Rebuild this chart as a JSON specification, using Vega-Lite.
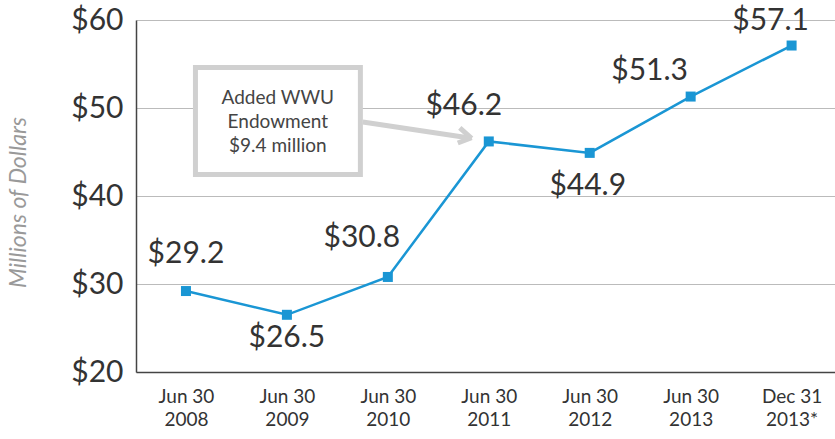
{
  "$schema": "https://vega.github.io/schema/vega-lite/v6.json",
  "autosize": {"type": "none"},
  "width": 699,
  "height": 352,
  "padding": {"left": 136, "top": 20, "right": 0, "bottom": 67},
  "background": "white",
  "config": {"view": {"stroke": null}, "font": "Lato"},
  "datasets": {
    "pts": [
      {"i": 0, "label": "Jun 30|2008", "value": 29.2},
      {"i": 1, "label": "Jun 30|2009", "value": 26.5},
      {"i": 2, "label": "Jun 30|2010", "value": 30.8},
      {"i": 3, "label": "Jun 30|2011", "value": 46.2},
      {"i": 4, "label": "Jun 30|2012", "value": 44.9},
      {"i": 5, "label": "Jun 30|2013", "value": 51.3},
      {"i": 6, "label": "Dec 31|2013*", "value": 57.1}
    ],
    "box": [{"x": 0.094, "x2": 1.728, "y": 42.44, "y2": 54.6, "tx": 0.91, "ty": 51.14}],
    "arrow": [
      {"x": 1.752, "y": 48.41, "x2": 2.81, "y2": 46.59},
      {"x": 2.713, "y": 47.73, "x2": 2.83, "y2": 46.55},
      {"x": 2.693, "y": 46.02, "x2": 2.83, "y2": 46.62}
    ]
  },
  "layer": [
    {
      "data": {"name": "pts"},
      "mark": {"type": "line", "color": "#1a96d4", "strokeWidth": 2.5},
      "encoding": {
        "x": {"field": "i", "type": "quantitative", "scale": {"domain": [-0.495, 6.43], "nice": false, "zero": false},
          "axis": {"values": [0, 1, 2, 3, 4, 5, 6], "grid": false, "ticks": false, "domainColor": "#444", "domainWidth": 1.5,
            "labelExpr": "split(['Jun 30|2008','Jun 30|2009','Jun 30|2010','Jun 30|2011','Jun 30|2012','Jun 30|2013','Dec 31|2013*'][datum.value], '|')",
            "labelFontSize": 19, "labelColor": "#333", "labelPadding": 15, "labelLineHeight": 23, "labelBaseline": "top", "title": null}},
        "y": {"field": "value", "type": "quantitative", "scale": {"domain": [20, 60], "nice": false},
          "axis": {"values": [20, 30, 40, 50, 60], "ticks": false, "domainColor": "#444", "domainWidth": 1.5, "gridColor": "#bbb", "gridWidth": 1,
            "labelExpr": "'$' + datum.value", "labelFontSize": 30, "labelColor": "#333", "labelPadding": 13,
            "title": "Millions of Dollars", "titleFontSize": 23, "titleFontStyle": "italic", "titleFontWeight": "normal", "titleColor": "#999",
            "titleX": -118, "titleY": 182, "titleAngle": -90, "titleAlign": "center", "titleBaseline": "middle"}}
      }
    },
    {
      "data": {"name": "pts"},
      "mark": {"type": "square", "color": "#1a96d4", "size": 100, "opacity": 1, "filled": true},
      "encoding": {"x": {"field": "i", "type": "quantitative"}, "y": {"field": "value", "type": "quantitative"}}
    },
    {
      "data": {"name": "arrow"},
      "mark": {"type": "rule", "color": "#d0d0d0", "strokeWidth": 5},
      "encoding": {"x": {"field": "x", "type": "quantitative"}, "y": {"field": "y", "type": "quantitative"}, "x2": {"field": "x2"}, "y2": {"field": "y2"}}
    },
    {
      "data": {"name": "box"},
      "mark": {"type": "rect", "fill": "white", "stroke": "#d0d0d0", "strokeWidth": 5},
      "encoding": {"x": {"field": "x", "type": "quantitative"}, "x2": {"field": "x2"}, "y": {"field": "y", "type": "quantitative"}, "y2": {"field": "y2"}}
    },
    {
      "data": {"name": "box"},
      "mark": {"type": "text", "fontSize": 19, "color": "#444", "lineHeight": 24, "align": "center", "baseline": "middle"},
      "encoding": {"x": {"field": "tx", "type": "quantitative"}, "y": {"field": "ty", "type": "quantitative"}, "text": {"value": ["Added WWU", "Endowment", "$9.4 million"]}}
    },
    {"data": {"name": "pts"}, "transform": [{"filter": "datum.i == 0"}], "mark": {"type": "text", "fontSize": 30, "color": "#333", "baseline": "middle", "dx": 0, "dy": -37},
      "encoding": {"x": {"field": "i", "type": "quantitative"}, "y": {"field": "value", "type": "quantitative"}, "text": {"field": "value", "type": "quantitative", "format": "$.1f"}}},
    {"data": {"name": "pts"}, "transform": [{"filter": "datum.i == 1"}], "mark": {"type": "text", "fontSize": 30, "color": "#333", "baseline": "middle", "dx": 0, "dy": 23},
      "encoding": {"x": {"field": "i", "type": "quantitative"}, "y": {"field": "value", "type": "quantitative"}, "text": {"field": "value", "type": "quantitative", "format": "$.1f"}}},
    {"data": {"name": "pts"}, "transform": [{"filter": "datum.i == 2"}], "mark": {"type": "text", "fontSize": 30, "color": "#333", "baseline": "middle", "dx": -26, "dy": -39},
      "encoding": {"x": {"field": "i", "type": "quantitative"}, "y": {"field": "value", "type": "quantitative"}, "text": {"field": "value", "type": "quantitative", "format": "$.1f"}}},
    {"data": {"name": "pts"}, "transform": [{"filter": "datum.i == 3"}], "mark": {"type": "text", "fontSize": 30, "color": "#333", "baseline": "middle", "dx": -25, "dy": -35},
      "encoding": {"x": {"field": "i", "type": "quantitative"}, "y": {"field": "value", "type": "quantitative"}, "text": {"field": "value", "type": "quantitative", "format": "$.1f"}}},
    {"data": {"name": "pts"}, "transform": [{"filter": "datum.i == 4"}], "mark": {"type": "text", "fontSize": 30, "color": "#333", "baseline": "middle", "dx": -2, "dy": 33},
      "encoding": {"x": {"field": "i", "type": "quantitative"}, "y": {"field": "value", "type": "quantitative"}, "text": {"field": "value", "type": "quantitative", "format": "$.1f"}}},
    {"data": {"name": "pts"}, "transform": [{"filter": "datum.i == 5"}], "mark": {"type": "text", "fontSize": 30, "color": "#333", "baseline": "middle", "dx": -41, "dy": -26},
      "encoding": {"x": {"field": "i", "type": "quantitative"}, "y": {"field": "value", "type": "quantitative"}, "text": {"field": "value", "type": "quantitative", "format": "$.1f"}}},
    {"data": {"name": "pts"}, "transform": [{"filter": "datum.i == 6"}], "mark": {"type": "text", "fontSize": 30, "color": "#333", "baseline": "middle", "dx": -21, "dy": -25},
      "encoding": {"x": {"field": "i", "type": "quantitative"}, "y": {"field": "value", "type": "quantitative"}, "text": {"field": "value", "type": "quantitative", "format": "$.1f"}}}
  ]
}
